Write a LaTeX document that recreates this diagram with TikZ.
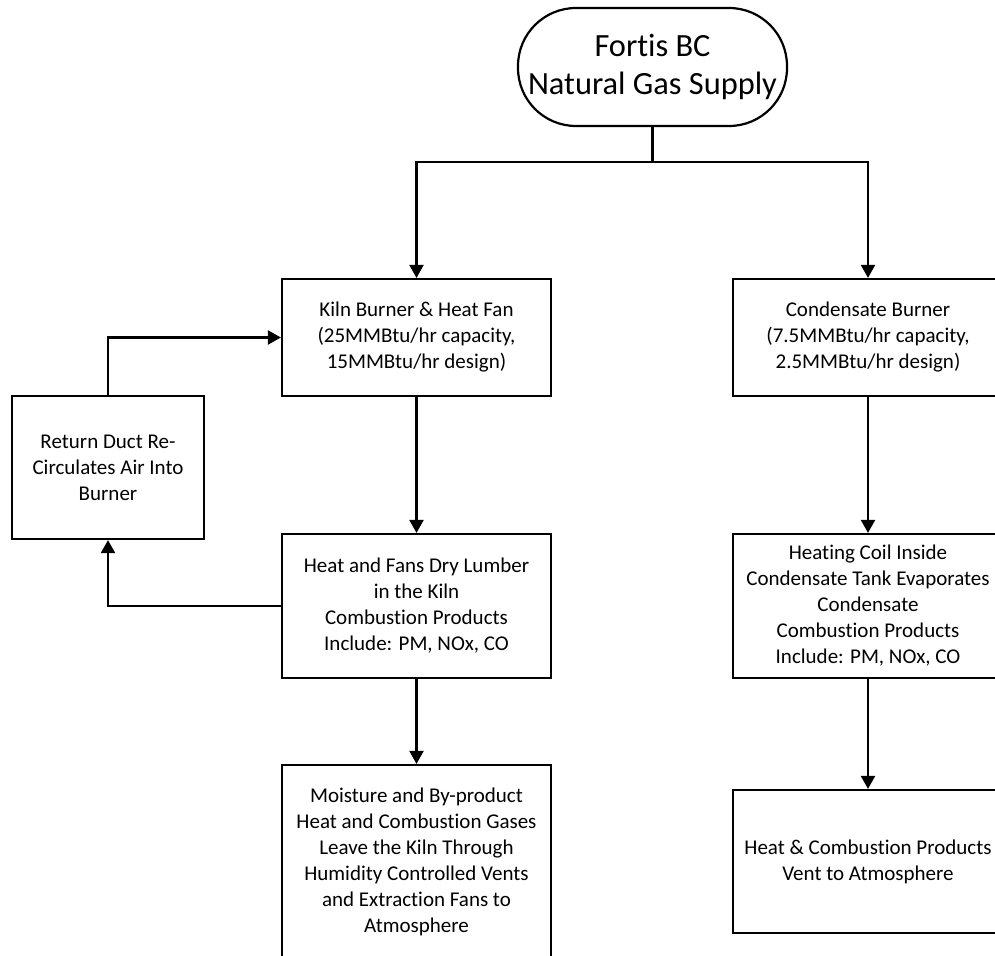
\documentclass[tikz,border=0pt]{standalone}
\usepackage{fontspec}
\setmainfont{Carlito}[RawFeature={-liga;-clig;-calt;-dlig}]
\usetikzlibrary{arrows.meta}
\begin{document}
\begin{tikzpicture}[x=1pt,y=-1pt,
  box/.style={draw, line width=2.2pt, rectangle, inner sep=0pt, align=center, font=\fontsize{21}{26}\selectfont},
  term/.style={draw, line width=2.2pt, rounded corners=58pt, inner sep=0pt, align=center, minimum width=269pt, minimum height=118pt, font=\fontsize{32.4}{38}\selectfont},
  arr/.style={line width=2.2pt, -{Triangle[length=13pt,width=14pt]}},
  ln/.style={line width=2.2pt}]
\useasboundingbox (0,0) rectangle (995,955);
\fill[white] (0,0) rectangle (995,955);
\clip (0,0) rectangle (995,955);

\node[term] (fortis) at (652.5,67) {Fortis BC\\Natural Gas Supply};
\node[box, minimum width=269pt, minimum height=117pt] (kiln) at (416.5,337.5) {Kiln Burner \& Heat Fan\\(25MMBtu/hr capacity,\\15MMBtu/hr design)};
\node[box, minimum width=270pt, minimum height=117pt] (cond) at (868,337.5) {Condensate Burner\\(7.5MMBtu/hr capacity,\\2.5MMBtu/hr design)};
\node[box, minimum width=192pt, minimum height=143pt] (ret) at (108,467.5) {Return Duct Re-\\Circulates Air Into\\Burner};
\node[box, minimum width=269pt, minimum height=144pt] (heat) at (416.5,606) {Heat and Fans Dry Lumber\\in the Kiln\\Combustion Products\\Include: PM, NOx, CO};
\node[box, minimum width=270pt, minimum height=144pt] (coil) at (868,606) {Heating Coil Inside\\Condensate Tank Evaporates\\Condensate\\Combustion Products\\Include: PM, NOx, CO};
\node[box, minimum width=269pt, minimum height=194pt] (moist) at (416.5,862) {Moisture and By-product\\Heat and Combustion Gases\\Leave the Kiln Through\\Humidity Controlled Vents\\and Extraction Fans to\\Atmosphere};
\node[box, minimum width=270pt, minimum height=143pt] (vent) at (868,861.5) {Heat \& Combustion Products\\Vent to Atmosphere};

\coordinate (j) at (652.5,162);
\draw[ln] (fortis.south) -- (j);
\draw[arr] (j) -| (kiln.north);
\draw[arr] (j) -| (cond.north);
\draw[arr] (kiln.south) -- (heat.north);
\draw[arr] (heat.south) -- (moist.north);
\draw[arr] (cond.south) -- (coil.north);
\draw[arr] (coil.south) -- (vent.north);
\draw[arr] (ret.north) |- (kiln.west);
\draw[arr] (heat.west) -| (ret.south);
\end{tikzpicture}
\end{document}
